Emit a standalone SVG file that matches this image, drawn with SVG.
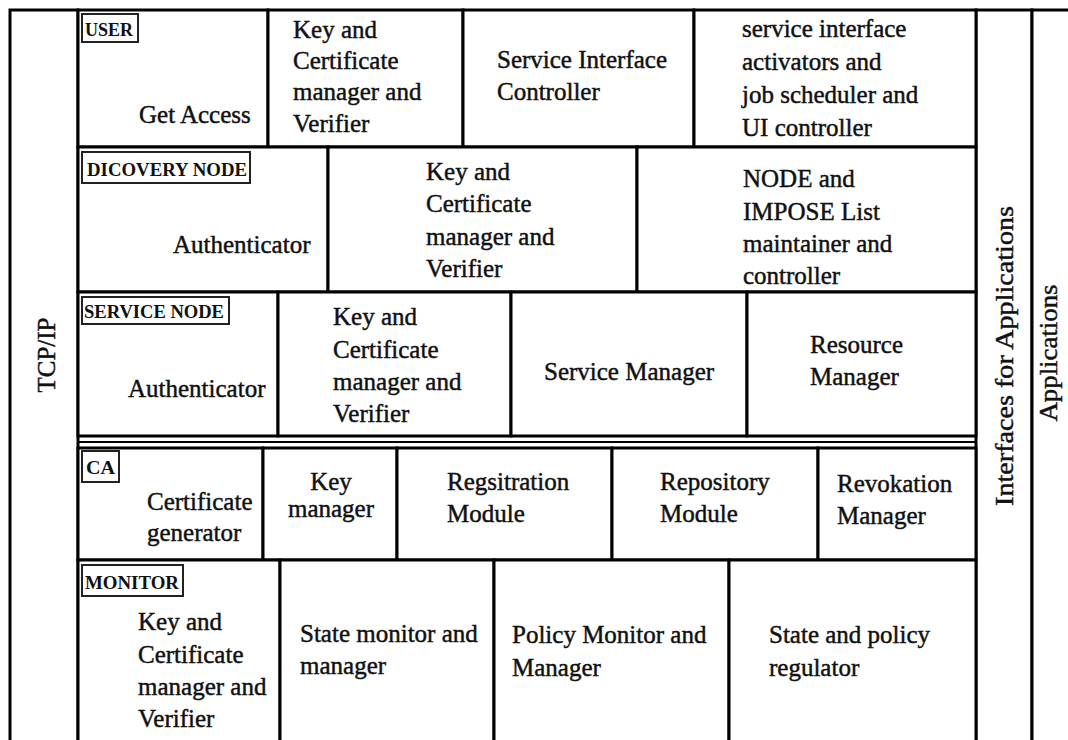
<svg xmlns="http://www.w3.org/2000/svg" width="1068" height="740" viewBox="0 0 1068 740">
<style>
.cell{fill:#fff;stroke:#000;stroke-width:3}
.lbox{fill:#fff;stroke:#222;stroke-width:2}
.t{font-family:"Liberation Serif","Times New Roman",serif;font-size:25px;fill:#111;stroke:#111;stroke-width:0.45}
.lb{font-family:"Liberation Serif","Times New Roman",serif;font-size:18px;font-weight:bold;fill:#111}
.sep{stroke:#000;fill:none}
</style>
<rect x="0" y="0" width="1068" height="740" fill="#fff"/>
<g id="tcpip">
<rect class="cell" x="10" y="10" width="68" height="740"/>
<text class="t" transform="translate(55,355) rotate(-90)" text-anchor="middle">TCP/IP</text>
</g>
<g id="interfaces">
<rect class="cell" x="976" y="10" width="56" height="740"/>
<text class="t" transform="translate(1013,356) rotate(-90)" text-anchor="middle" textLength="300" lengthAdjust="spacingAndGlyphs">Interfaces for Applications</text>
</g>
<g id="applications">
<rect class="cell" x="1032" y="10" width="40" height="740"/>
<text class="t" transform="translate(1057,353) rotate(-90)" text-anchor="middle" textLength="137" lengthAdjust="spacingAndGlyphs">Applications</text>
</g>

<g id="user-get-access">
<rect class="cell" x="78" y="10" width="190" height="137"/>
<rect class="lbox" x="82" y="14" width="56" height="28"/>
<text class="lb" x="85" y="36" textLength="48" lengthAdjust="spacingAndGlyphs">USER</text>
<text class="t" x="139" y="123">Get Access</text>
</g>
<g id="user-key-cert">
<rect class="cell" x="268" y="10" width="195" height="137"/>
<text class="t" x="293" y="38">Key and</text>
<text class="t" x="293" y="69">Certificate</text>
<text class="t" x="293" y="100">manager and</text>
<text class="t" x="293" y="132">Verifier</text>
</g>
<g id="user-service-interface">
<rect class="cell" x="463" y="10" width="231" height="137"/>
<text class="t" x="497" y="68">Service Interface</text>
<text class="t" x="497" y="100">Controller</text>
</g>
<g id="user-activators">
<rect class="cell" x="694" y="10" width="282" height="137"/>
<text class="t" x="742" y="37">service interface</text>
<text class="t" x="742" y="70">activators and</text>
<text class="t" x="742" y="103">job scheduler and</text>
<text class="t" x="742" y="136">UI controller</text>
</g>

<g id="discovery-authenticator">
<rect class="cell" x="78" y="147" width="250" height="145"/>
<rect class="lbox" x="82" y="152" width="168" height="31"/>
<text class="lb" x="87" y="176" textLength="160" lengthAdjust="spacingAndGlyphs">DICOVERY NODE</text>
<text class="t" x="173" y="253">Authenticator</text>
</g>
<g id="discovery-key-cert">
<rect class="cell" x="328" y="147" width="309" height="145"/>
<text class="t" x="426" y="180">Key and</text>
<text class="t" x="426" y="212">Certificate</text>
<text class="t" x="426" y="245">manager and</text>
<text class="t" x="426" y="277">Verifier</text>
</g>
<g id="discovery-list">
<rect class="cell" x="637" y="147" width="339" height="145"/>
<text class="t" x="743" y="187">NODE and</text>
<text class="t" x="743" y="220">IMPOSE List</text>
<text class="t" x="743" y="252">maintainer and</text>
<text class="t" x="743" y="284">controller</text>
</g>

<g id="service-authenticator">
<rect class="cell" x="78" y="292" width="200" height="144"/>
<rect class="lbox" x="82" y="297" width="147" height="27"/>
<text class="lb" x="84" y="318" textLength="140" lengthAdjust="spacingAndGlyphs">SERVICE NODE</text>
<text class="t" x="128" y="397">Authenticator</text>
</g>
<g id="service-key-cert">
<rect class="cell" x="278" y="292" width="233" height="144"/>
<text class="t" x="333" y="325">Key and</text>
<text class="t" x="333" y="358">Certificate</text>
<text class="t" x="333" y="390">manager and</text>
<text class="t" x="333" y="422">Verifier</text>
</g>
<g id="service-manager">
<rect class="cell" x="511" y="292" width="236" height="144"/>
<text class="t" x="544" y="380">Service Manager</text>
</g>
<g id="resource-manager">
<rect class="cell" x="747" y="292" width="229" height="144"/>
<text class="t" x="810" y="353">Resource</text>
<text class="t" x="810" y="385">Manager</text>
</g>

<g id="separators">
<line class="sep" x1="78" y1="442" x2="976" y2="442" stroke-width="2"/>
</g>

<g id="ca-cert-generator">
<rect class="cell" x="78" y="448" width="185" height="112"/>
<rect class="lbox" x="82" y="451" width="37" height="31"/>
<text class="lb" x="86" y="474" textLength="29" lengthAdjust="spacingAndGlyphs">CA</text>
<text class="t" x="147" y="510">Certificate</text>
<text class="t" x="147" y="541">generator</text>
</g>
<g id="ca-key-manager">
<rect class="cell" x="263" y="448" width="134" height="112"/>
<text class="t" x="331" y="490" text-anchor="middle">Key</text>
<text class="t" x="331" y="517" text-anchor="middle">manager</text>
</g>
<g id="ca-registration">
<rect class="cell" x="397" y="448" width="215" height="112"/>
<text class="t" x="447" y="490">Regsitration</text>
<text class="t" x="447" y="522">Module</text>
</g>
<g id="ca-repository">
<rect class="cell" x="612" y="448" width="206" height="112"/>
<text class="t" x="660" y="490">Repository</text>
<text class="t" x="660" y="522">Module</text>
</g>
<g id="ca-revokation">
<rect class="cell" x="818" y="448" width="158" height="112"/>
<text class="t" x="837" y="492">Revokation</text>
<text class="t" x="837" y="524">Manager</text>
</g>

<g id="monitor-key-cert">
<rect class="cell" x="78" y="560" width="202" height="190"/>
<rect class="lbox" x="82" y="565" width="101" height="31"/>
<text class="lb" x="85" y="589" textLength="94" lengthAdjust="spacingAndGlyphs">MONITOR</text>
<text class="t" x="138" y="630">Key and</text>
<text class="t" x="138" y="663">Certificate</text>
<text class="t" x="138" y="695">manager and</text>
<text class="t" x="138" y="727">Verifier</text>
</g>
<g id="monitor-state">
<rect class="cell" x="280" y="560" width="214" height="190"/>
<text class="t" x="300" y="642">State monitor and</text>
<text class="t" x="300" y="674">manager</text>
</g>
<g id="monitor-policy">
<rect class="cell" x="494" y="560" width="235" height="190"/>
<text class="t" x="512" y="643">Policy Monitor and</text>
<text class="t" x="512" y="676">Manager</text>
</g>
<g id="monitor-regulator">
<rect class="cell" x="729" y="560" width="247" height="190"/>
<text class="t" x="769" y="643">State and policy</text>
<text class="t" x="769" y="676">regulator</text>
</g>
</svg>
